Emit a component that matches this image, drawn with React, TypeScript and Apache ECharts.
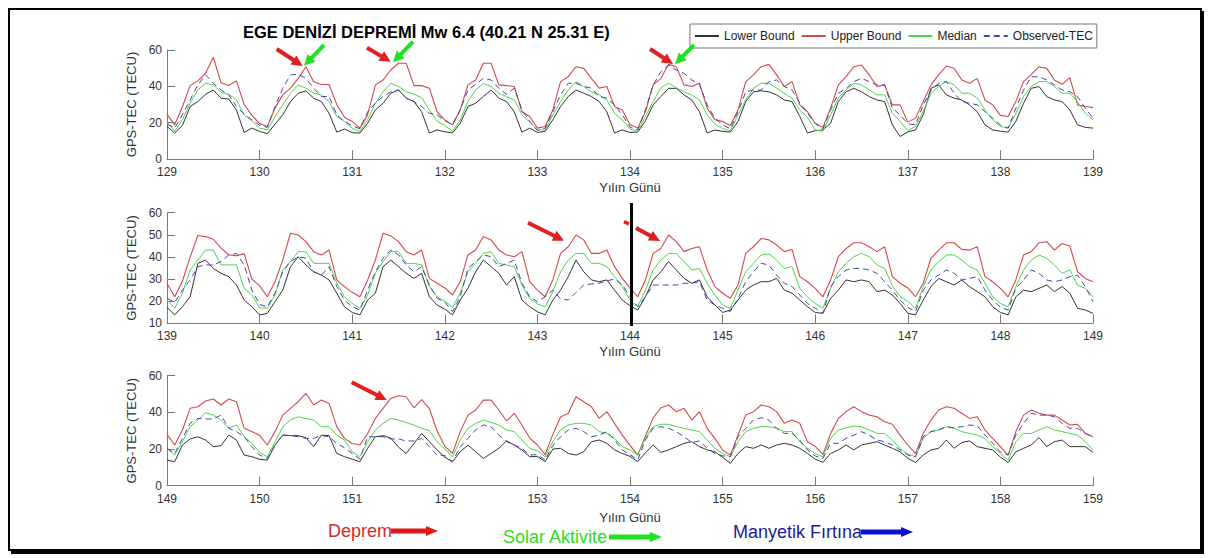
import React, { useEffect, useRef } from "react";
import * as echarts from "echarts";

const FONT = "'Liberation Sans', Arial, Helvetica, sans-serif";
const NAMES = ["Lower Bound", "Upper Bound", "Median", "Observed-TEC"];
const COLORS = ["#333333", "#d24a4a", "#4fd34f", "#4646aa"];
const START_DAYS = [129, 139, 149];
const Y_MIN = [0, 10, 0];
const Y_INTERVAL = [20, 10, 20];

// Panel 1 (days 129-139), 2-hour samples
const lower1 = [
  17.9,14.3,18.5,28.9,31.6,35.6,38,33.5,33,27,14.6,17,
  15.2,13.9,19.2,24.3,31.6,36.2,37.5,33.5,31.6,25.2,14.8,16.5,
  14.5,14.3,19.7,27,30.7,36.2,38,33.5,31.6,26,14.3,16,
  15,14.3,19.7,28.9,30.7,34.4,38,33.5,31.6,26,14.8,17,
  14.6,15.2,21.6,28.9,34.4,38,36.2,34.4,31.6,26,14.3,16,
  14.6,14.8,21,29.8,34.4,38.9,38.9,35.3,32.5,26,14.3,16,
  15.2,14.8,20.7,31.6,37,37.5,37,35.3,32.5,31.6,23.4,14.3,
  15.6,16,19.7,31.6,37,38.9,37,34.4,32.5,31.6,18.8,12.4,
  14.9,16,24.3,38.9,40.8,35.3,33.5,32.5,29.8,26,18.8,16,
  15.3,14.8,20.7,30.7,38.9,39.9,34.4,32.5,31.6,27,18.8,17.4,
  17
];
const upper1 = [
  24.7,18.8,28.9,40.4,43,47.2,56,42,40.5,43,30,24,
  19.5,17.9,28,35.3,39,44.4,50.8,42.5,41,41,30,23,
  20.7,17,24.3,40.8,43.5,49,52.7,52.7,40.4,40.4,39,26,
  21.5,18.8,27,40.8,43.5,52.7,52.7,40.8,40.4,39.9,26,23.4,
  17,17.9,27,42.6,45.3,50.8,49.9,44.4,39,39.9,28.9,27,
  18.8,17,26,40.8,44.4,52.1,50.8,40.8,39.9,41.7,28,21.6,
  20.7,18.5,27,42.6,46.3,50.8,52.1,46.3,39.9,42.6,29.8,26,
  19.7,17.4,28,40.8,45.3,50.8,51.7,46.3,39.9,40.8,29.8,29.8,
  20.3,22.5,31.6,40.8,46.3,51.2,49.9,43.5,41.7,44.4,32.5,29.8,
  24,23.4,31.6,42.6,46.6,50.8,49.9,43.5,41.1,44.8,29.8,28.9,
  28.3
];
const median1 = [
  20.3,15.2,21.6,30.7,38,41.7,40.8,36.7,35.6,32.5,24.3,21,
  17,16,23.4,29.8,36.2,40.8,39,36.2,35.3,31.6,23.4,20.7,
  17,15.2,21.6,30.7,37,41.7,39.9,37,35.6,33.8,27,20.7,
  18.5,15.2,21.6,31.6,38,41.7,39.9,36.2,34.4,32.5,24.3,20.3,
  16,16,24.3,31.6,38,42.6,39.9,37,35.3,32.5,25.2,21.6,
  16.5,15.2,23.4,31.6,39.3,41.7,39.3,37,35.3,32.5,24.3,19.2,
  16.8,15.5,24.3,32.5,38.9,41.7,41.7,39,36.2,33.5,27,22.9,
  16,15.2,24.3,33.5,38,41.7,40.8,38,35.3,35.3,25.2,20.7,
  15.6,17.9,26,36.2,39.9,42.6,40.8,36.2,36.2,33.5,27,21.6,
  17.9,17,25.2,34.4,39.9,42.6,42.6,39.9,36.2,36.2,31.6,25.2,
  21.6
];
const observed1 = [
  19.2,17,24.3,32.5,40.8,46.3,41.7,38,35.3,28.9,24.7,21.6,
  18.6,17.4,28.9,39,46.3,46.6,44.4,39,34.4,34.4,24.3,20.7,
  18.3,16.6,26,30.7,34.4,37,38,33.5,31.6,28.9,25.2,24.3,
  21.2,18.8,27,38,41.1,44.4,43.5,39,35.6,39,27,20.7,
  15.6,17,26,35.3,41.7,41.7,39.9,39,34.4,33.5,29.8,24.3,
  17.5,16,27,40.8,48,51.7,49,47.2,43.5,41.1,29.8,22.5,
  18.8,16.6,26,37,38,38,42.6,43.5,39.9,38,30.7,25.2,
  19.5,16.6,27,36.2,38.9,42.6,44.4,42.6,40.8,40.8,28,24.3,
  19.3,18.8,29.8,38,41.7,42.6,36.2,31.6,30.7,29.8,26,22.5,
  18.7,17,28,38,45.3,45.3,43.5,40.8,38,37,34.4,28,
  22.5
];

// Panel 2 (days 139-149)
const lower2 = [
  17.2,13.8,17.5,22,37.1,38.6,34.8,32.6,31.1,27.3,20.5,17.5,
  13.8,14.5,19.8,25,35.6,40.1,36.4,33.3,31.8,29.6,23.6,17.5,
  14.9,13.8,20.5,23.6,35.6,38.6,35.6,32.6,30.3,32.6,22,18.3,
  16.4,13.8,20.5,25.8,33.3,38.6,35.6,32.6,27.3,31.1,20.5,17.5,
  15.2,13.8,20.5,25,31.1,38.6,33.3,29.6,28.8,29.6,25,20.5,
  17.9,16,22,29.6,33.3,37.9,34.1,30.3,28.1,29.6,22,18.3,
  14.9,16,20.5,25,27.3,28.8,28.8,30.3,25,23.6,20.5,17.5,
  14.9,14.5,21.3,25,29.6,28.8,29.6,28.8,24.3,25,22.8,19,
  14.5,13.8,20.5,26.6,30.3,28.8,27.3,29.6,26.6,24.3,22,17.5,
  14.9,13.8,22,25,24.3,25.8,27.3,24.3,26.6,23.6,16.8,16,
  14.5
];
const upper2 = [
  28,22,29,40,49.7,49.2,48,44,41,40.5,41.5,30,
  27,22,28.8,38.6,50.7,49.9,46.9,42.4,40.9,43.1,29.6,26.6,
  24,22,29.6,38.6,50.7,49.5,46.9,42.4,40.9,43.1,30.3,28.1,
  26,22.8,28.8,40.9,43.1,49.2,47.7,43.1,40.9,40.1,42.4,28.8,
  25,22,29.6,41.6,44.6,49.9,47.7,41.6,41.6,43.1,35.6,30.3,
  26,22,29.6,41.6,43.8,49.9,46.9,42.4,43.8,44.6,34.1,26.6,
  23.6,21.3,27.3,41.6,44.6,48.4,47.7,45.4,42.4,43.4,31.1,28.8,
  25.8,22,29.6,40.1,43.8,46.4,46.4,44.6,42.4,44.6,31.1,28.1,
  26,22,28.1,39.4,43.1,46.4,46.4,43.4,43.1,44.6,31.1,28.8,
  25.8,22,29.6,40.9,42.4,46.4,46.9,43.1,46.1,44.9,33.3,30.3,
  28.8
];
const median2 = [
  20.5,16.8,23.6,34.1,38.6,43.1,43.1,36.4,36.4,36.4,25.8,22.8,
  17,16.8,22.8,34.1,37.9,42.4,42.4,37.1,37.1,37.1,28.1,22,
  19,16.8,22.8,32.6,37.9,42.4,42.4,37.1,37.1,36.4,26.6,22,
  20,17.2,23.6,33.3,37.1,41.6,42.4,37.1,36.4,35.6,27.3,21.3,
  18.7,17.5,24.3,33.3,38.6,41.6,41.6,37.1,37.1,35.6,31.1,26.6,
  20.5,17.5,25,34.1,38.6,41.6,41.6,37.9,34.1,34.8,28.1,22.8,
  18.2,16.8,25,33.3,37.1,40.9,41.3,38.6,34.8,35.6,25.8,22,
  19,16.8,25.8,33.3,37.1,40.1,41.6,40.1,36.4,34.8,27,22,
  20,16.8,26.6,34.1,37.9,40.9,40.9,38.6,35.6,34.1,28.1,22,
  19,17.5,26.6,34.1,38.6,40.9,39.4,36.4,32.6,34.1,27.3,25.8,
  22
];
const observed2 = [
  21.3,19.5,25,29.6,35.6,36.4,36.4,37.9,40.9,41.6,36.4,25,
  18.5,17.5,23.6,33.3,37.9,40.1,39.4,33.3,31.8,35.6,26.6,20.5,
  17.5,16,25,33.3,39.4,43.1,40.9,36.4,33.3,35.6,27.3,21.3,
  19.5,15.3,22,34.8,37.9,40.9,40.1,35.6,37.1,38.6,28.1,22,
  19.7,22,25,21,20.5,24,27.3,27.8,28.1,29.2,30,27.5,
  22,17.5,22,27.3,27.3,27.3,27.3,28.1,28.1,28.8,20.5,18.3,
  16.8,15.3,21.3,28.8,33.3,37.1,36.4,31.8,28.1,26.6,22.8,19,
  16.8,14.5,26.6,31.1,34.1,34.8,34.8,34.1,32.6,28.8,25,20.5,
  17.2,15.3,25,29.6,31.8,34.1,32.6,29.6,30.3,31.1,25,20.5,
  17.2,16,25.8,29.6,34.1,32.6,29.6,28.8,29.6,31.1,31.8,26.6,
  19.8
];

// Panel 3 (days 149-159)
const lower3 = [
  14,13.1,22.2,25.5,26.7,24.9,21.3,21.8,27.6,24.9,16.7,15.8,
  14.4,14,22.2,27.6,27.3,27.3,26.2,21.3,27.6,27.3,17.6,15.8,
  14.5,13.1,20.4,26.7,27.3,26,21,17.6,23,28.5,24,19.5,
  15.5,13.1,18.5,22.2,18.5,14.9,17.6,20.4,24.4,22.2,19.5,15.8,
  16,13.1,20,20.4,17.6,16.7,18.5,24,24.9,23.1,19.5,17.6,
  16,13.1,18,22.2,18.2,19.5,21.3,23.1,24,21.3,19.5,18.5,
  15.5,12.2,17.6,21.3,20.4,22.2,20.4,22.2,23.1,22.2,20.4,17.6,
  14.5,12.7,17.6,19.5,22.2,19.5,22.2,23.1,24,22.2,20.4,18.5,
  14.9,12.7,16.7,19.5,20.4,24.9,20.4,23.6,24.4,21.3,20.4,19.5,
  15.6,12.7,18.5,20.4,22.2,26.2,21.3,24,24.9,21.3,21.3,21.3,
  18.2
];
const upper3 = [
  28,22.2,30.4,42.2,43.1,46.2,47.3,44,47.3,45.8,31.3,29.5,
  27.5,22.2,29.5,38.5,42.2,45.8,50.4,44,46.7,44.9,32.2,25.8,
  23,22.2,28.5,36.7,42.2,47.6,49.1,48.5,42.5,47,42,30,
  21.5,17.6,29.5,38.5,41.3,46.7,46.7,41.3,35.3,39.5,33.1,26,
  22.2,17,28,37.5,39.5,48.5,45.8,43.1,36.7,40.4,34,27.6,
  22,16.7,27,37,42.5,44,40.4,42.2,35.8,40.4,31.3,25.8,
  19.5,16.7,27.6,38.5,40.4,44,43.1,40.4,34,35.8,34,24,
  21.5,17.1,28.5,36.7,40.4,43.1,40.4,38.5,37.6,34.9,33.5,27.6,
  22.2,17.6,28.5,35.8,41.3,43.1,42.2,39.5,36.7,37.6,30.4,25.8,
  21.3,16.7,29.5,38.5,41.3,39.5,38.5,38.5,35.8,33.1,33.5,28.5,
  26.7
];
const median3 = [
  20.4,16.7,24,32.2,35.8,39.8,38.5,35.8,31.3,33.1,26.7,23.1,
  18,15.8,24,32.2,35.8,37.6,36.7,35.8,32.2,32.2,27.6,24.9,
  18.5,15.8,24,30.4,34,36.7,35.8,34.5,33,31.3,30,24,
  20,15.8,24.9,31.3,34,35.8,34.5,33.1,30.4,29.5,24.9,20.4,
  19,15.8,24,30.4,33.1,34,34,33.1,29.5,28.5,25.8,21.3,
  19.5,16.7,26,32.2,33.5,33.5,32.2,31.3,30.4,29.5,24.9,20.4,
  17.6,15.8,24,29.5,31.3,32.2,32.2,31.3,29.5,29.5,24,20.4,
  17.5,15.8,25.8,30.4,31.6,32.5,32.2,30.4,28.5,28.5,24.9,20.4,
  17.2,15.8,25.8,29.5,30.4,32.2,31.3,29.5,28.5,27.6,25.8,21.3,
  17.6,14,24,28.5,28.5,30.4,32.2,30.4,29.5,28.5,27.6,24,
  19.5
];
const observed3 = [
  20.4,17.6,25.8,34,36.7,36.4,36.4,38.5,31.3,29.5,26.7,21.3,
  16.7,14.9,22.2,27.6,27.3,26.7,25.8,25.8,27.3,26.7,23.1,20.7,
  17.6,14.5,26.7,26.7,26.7,25.5,25.5,24.4,24.4,25.8,21.3,16.7,
  16.5,13.1,21.3,25.8,30.4,33.1,32.2,27.6,24,22.2,20.4,16.7,
  17,14,22,26.7,30.4,31.3,29.5,26.7,27.6,29.5,24.9,19.5,
  17,14,25,31.3,32.2,31.3,29.5,26.7,23.6,24.4,20.4,17.6,
  16.3,15.8,26.7,31.3,35.8,37.1,35.8,31.3,28.5,28.5,24.9,19.5,
  16.2,14.9,23.1,23.1,25.8,27.6,29.5,27.6,24.9,24,22.2,19.5,
  16.7,15.8,26.7,29.5,30.4,32.2,31.6,32.2,33.1,32.7,27.6,23.1,
  18.3,16.7,27.6,34,39.5,38.5,38.5,37.6,34,31.3,31.3,28.5,
  26.7
];

const PANELS = [
  [lower1, upper1, median1, observed1],
  [lower2, upper2, median2, observed2],
  [lower3, upper3, median3, observed3],
];

const TITLE = "EGE DENİZİ DEPREMİ Mw 6.4 (40.21 N 25.31 E)";
const Y_NAME = "GPS-TEC (TECU)";
const X_NAME = "Yılın Günü";

function arrowPoints(x1: number, y1: number, x2: number, y2: number, shaft: number, headLen: number, headW: number) {
  const dx = x2 - x1, dy = y2 - y1;
  const L = Math.sqrt(dx * dx + dy * dy);
  const ux = dx / L, uy = dy / L;
  const nx = -uy, ny = ux;
  const bx = x2 - ux * headLen, by = y2 - uy * headLen;
  return [
    [x1 + nx * shaft / 2, y1 + ny * shaft / 2],
    [bx + nx * shaft / 2, by + ny * shaft / 2],
    [bx + nx * headW / 2, by + ny * headW / 2],
    [x2, y2],
    [bx - nx * headW / 2, by - ny * headW / 2],
    [bx - nx * shaft / 2, by - ny * shaft / 2],
    [x1 - nx * shaft / 2, y1 - ny * shaft / 2],
  ];
}

function arrow(x1: number, y1: number, x2: number, y2: number, color: string, shaft = 4, headLen = 11, headW = 11) {
  return {
    type: "polygon",
    silent: true,
    z: 100,
    shape: { points: arrowPoints(x1, y1, x2, y2, shaft, headLen, headW) },
    style: { fill: color, stroke: null },
  };
}

export default function App() {
  const ref = useRef<HTMLDivElement>(null);
  useEffect(() => {
    if (!ref.current) return;
    const chart = echarts.init(ref.current, null, { renderer: "svg" });
    const grids = [
      { left: 167, top: 50, width: 926, height: 109 },
      { left: 167, top: 212.7, width: 926, height: 110.6 },
      { left: 167, top: 375.7, width: 926, height: 110 },
    ].map((g) => ({ ...g, containLabel: false, outerBoundsMode: "none" }));

    const axisColor = "#7a7a7a";
    const labelStyle = { color: "#333", fontSize: 12, fontFamily: FONT };
    const xAxes = START_DAYS.map((d, i) => ({
      type: "value",
      gridIndex: i,
      min: d,
      max: d + 10,
      interval: 1,
      axisLine: { show: true, lineStyle: { color: axisColor, width: 1 } },
      axisTick: { show: true, inside: true, length: 9, lineStyle: { color: axisColor } },
      axisLabel: { ...labelStyle, margin: 7 },
      splitLine: { show: false },
      name: X_NAME,
      nameLocation: "middle",
      nameGap: i === 2 ? 25 : 22,
      nameTextStyle: { color: "#333", fontSize: 13, fontFamily: FONT },
    }));
    const yAxes = START_DAYS.map((_, i) => ({
      type: "value",
      gridIndex: i,
      min: Y_MIN[i],
      max: 60,
      interval: Y_INTERVAL[i],
      axisLine: { show: true, lineStyle: { color: axisColor, width: 1 } },
      axisTick: { show: true, inside: true, length: 8, lineStyle: { color: axisColor } },
      axisLabel: { ...labelStyle, margin: 5 },
      splitLine: { show: false },
      name: Y_NAME,
      nameLocation: "middle",
      nameRotate: 90,
      nameGap: 22,
      nameTextStyle: { color: "#333", fontSize: 13, fontFamily: FONT },
    }));

    const series: any[] = [];
    PANELS.forEach((panel, p) => {
      panel.forEach((vals, s) => {
        series.push({
          type: "line",
          name: NAMES[s],
          xAxisIndex: p,
          yAxisIndex: p,
          data: vals.map((v, k) => [START_DAYS[p] + k / 12, v]),
          symbol: "none",
          showSymbol: false,
          silent: true,
          lineStyle: { color: COLORS[s], width: s === 1 ? 1.1 : 1, type: s === 3 ? [6, 4] : "solid" },
          itemStyle: { color: COLORS[s] },
          z: 2 + s,
        });
      });
    });

    const graphic: any[] = [
      // outer frame
      { type: "rect", silent: true, z: 100, shape: { x: 9, y: 9, width: 1192, height: 541 }, style: { fill: "none", stroke: "#000", lineWidth: 2 } },
      { type: "rect", silent: true, z: 100, shape: { x: 1200, y: 11, width: 4, height: 543 }, style: { fill: "#000" } },
      { type: "rect", silent: true, z: 100, shape: { x: 11, y: 549, width: 1193, height: 5 }, style: { fill: "#000" } },
      // panel 1 arrows
      arrow(276.7, 49, 302.7, 66, "#e02020"),
      arrow(324, 45, 304, 65.7, "#22e022"),
      arrow(367, 47.7, 390.7, 61.7, "#e02020"),
      arrow(413, 41.7, 393, 62.3, "#22e022"),
      arrow(650, 49, 673, 64, "#e02020"),
      arrow(694, 45, 675, 64.3, "#22e022"),
      // panel 2 arrows and divider
      arrow(528, 222.7, 564, 240.7, "#e02020"),
      { type: "line", silent: true, z: 100, shape: { x1: 624, y1: 221.7, x2: 629, y2: 224 }, style: { stroke: "#e02020", lineWidth: 3.5 } },
      arrow(636, 228, 660, 241, "#e02020"),
      { type: "line", silent: true, z: 100, shape: { x1: 631.5, y1: 203, x2: 631.5, y2: 326 }, style: { stroke: "#000", lineWidth: 3 } },
      // panel 3 arrow
      arrow(351.7, 382.3, 386.7, 400, "#e02020"),
      // bottom key
      { type: "text", silent: true, z: 100, x: 328, y: 531, style: { text: "Deprem", fill: "#d42a2a", fontSize: 18, fontFamily: FONT, verticalAlign: "middle", align: "left" } },
      arrow(391, 531, 438, 531, "#e01818", 5, 12, 10),
      { type: "text", silent: true, z: 100, x: 503, y: 537, style: { text: "Solar Aktivite", fill: "#2bdd2b", fontSize: 18, fontFamily: FONT, verticalAlign: "middle", align: "left" } },
      arrow(609, 537, 662, 537, "#22e022", 5, 12, 10),
      { type: "text", silent: true, z: 100, x: 733, y: 532, style: { text: "Manyetik Fırtına", fill: "#1c1c96", fontSize: 18, fontFamily: FONT, verticalAlign: "middle", align: "left" } },
      arrow(861, 532, 913, 532, "#1010d0", 5, 12, 10),
    ];

    chart.setOption({
      animation: false,
      backgroundColor: "#ffffff",
      title: {
        text: TITLE,
        left: 243,
        top: 23,
        padding: 0,
        textStyle: { fontSize: 16.5, fontWeight: "bold", color: "#000", fontFamily: FONT },
      },
      legend: {
        left: 690,
        top: 24,
        orient: "horizontal",
        data: NAMES,
        itemWidth: 24,
        itemHeight: 12,
        itemGap: 6,
        padding: [6, 4],
        borderColor: "#777",
        borderWidth: 1,
        backgroundColor: "#fff",
        selectedMode: false,
        itemStyle: { opacity: 0 },
        textStyle: { fontSize: 12, color: "#222", fontFamily: FONT },
      },
      grid: grids,
      xAxis: xAxes,
      yAxis: yAxes,
      series,
      graphic,
    });
    return () => chart.dispose();
  }, []);
  return (
    <div
      ref={ref}
      style={{ position: "fixed", left: 0, top: 0, width: 1211, height: 558, background: "#fff" }}
    />
  );
}
